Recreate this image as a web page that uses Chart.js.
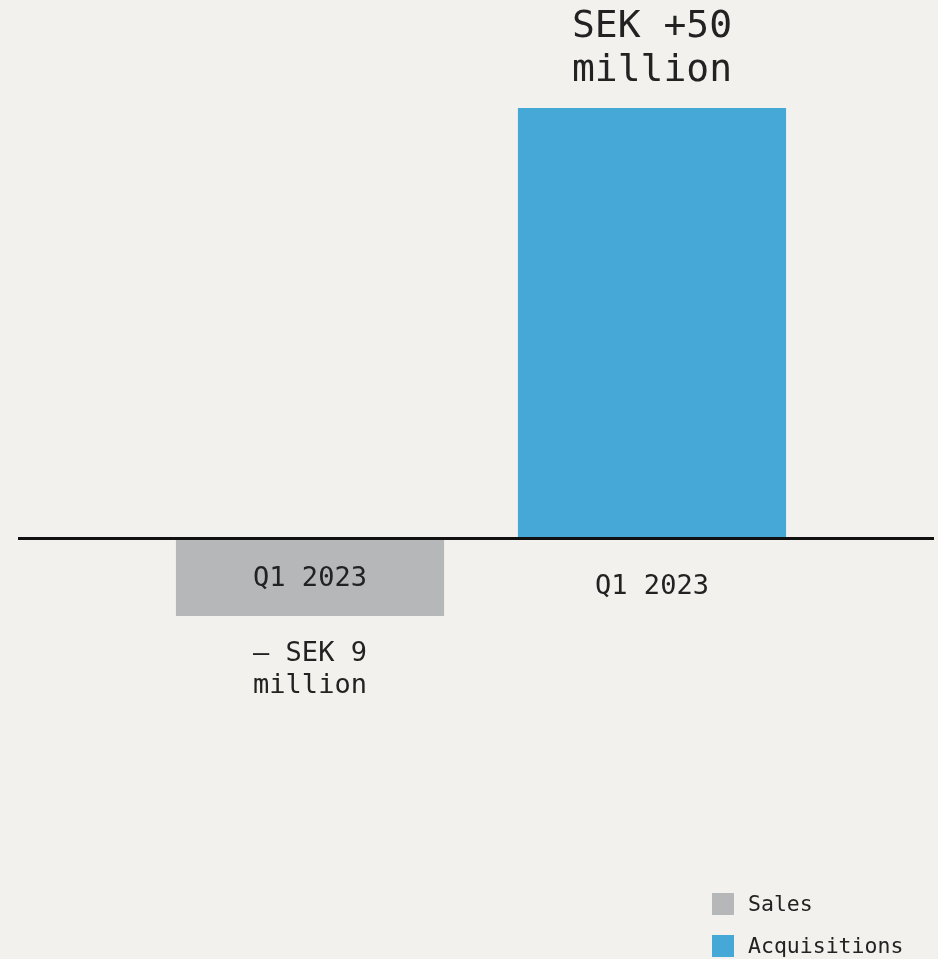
<!DOCTYPE html>
<html lang="en">
<head>
<meta charset="UTF-8">
<title>Sales and acquisitions</title>
<script src="https://cdn.jsdelivr.net/npm/chart.js@4.4.0/dist/chart.umd.min.js"></script>
<style>
  html, body { margin: 0; padding: 0; background: #f2f1ed; }
  #wrap { position: relative; width: 938px; height: 959px; }
  #legend { position: absolute; left: 712px; top: 893px; font-family: "DejaVu Sans Mono", monospace; font-size: 21.5px; color: #222; }
  #legend div { height: 22px; line-height: 22px; margin-bottom: 20px; white-space: nowrap; }
  #legend span { display: inline-block; width: 22px; height: 22px; vertical-align: top; margin-right: 14px; }
</style>
</head>
<body>
<div id="wrap">
  <canvas id="myChart" width="938" height="959"></canvas>
  <div id="legend"></div>
</div>
<script>
// data
const categories = ['Sales', 'Acquisitions'];
const salesValues = [-9, null];
const acquisitionValues = [null, 50];
const periodLabels = ['Q1 2023', 'Q1 2023'];
const valueLabels = [['– SEK 9', 'million'], ['SEK +50', 'million']];
const seriesNames = ['Sales', 'Acquisitions'];
const seriesColors = ['#b6b7b9', '#46a8d6'];

const FONT = '"DejaVu Sans Mono", monospace';

// zero line across the whole width + the text labels
const annotate = {
  id: 'annotate',
  afterDatasetsDraw(chart) {
    const ctx = chart.ctx;
    const y = chart.scales.y;
    const x = chart.scales.x;
    const zero = y.getPixelForValue(0);
    ctx.save();
    ctx.strokeStyle = '#111';
    ctx.lineWidth = 3;
    ctx.beginPath();
    ctx.moveTo(18, zero);
    ctx.lineTo(934, zero);
    ctx.stroke();

    ctx.fillStyle = '#222';
    ctx.textAlign = 'center';
    ctx.textBaseline = 'alphabetic';

    // sales: period inside bar, value under it
    let cx = x.getPixelForValue(0);
    ctx.font = '27px ' + FONT;
    ctx.fillText(periodLabels[0], cx, zero + 47);
    ctx.fillText(valueLabels[0][0], cx, zero + 122);
    ctx.fillText(valueLabels[0][1], cx, zero + 154);

    // acquisitions: value above bar, period under the line
    cx = x.getPixelForValue(1);
    const top = y.getPixelForValue(acquisitionValues[1]);
    ctx.font = '38px ' + FONT;
    ctx.fillText(valueLabels[1][0], cx, top - 71);
    ctx.fillText(valueLabels[1][1], cx, top - 27);
    ctx.font = '27px ' + FONT;
    ctx.fillText(periodLabels[1], cx, zero + 55);
    ctx.restore();
  }
};

const chart = new Chart(document.getElementById('myChart'), {
  type: 'bar',
  data: {
    labels: categories,
    datasets: [
      { label: seriesNames[0], data: salesValues, backgroundColor: seriesColors[0] },
      { label: seriesNames[1], data: acquisitionValues, backgroundColor: seriesColors[1] }
    ]
  },
  options: {
    responsive: false,
    animation: false,
    layout: { padding: { left: 139, right: 115, top: 22, bottom: 76 } },
    datasets: { bar: { barPercentage: 1, categoryPercentage: 0.784 } },
    scales: {
      x: { display: false, stacked: true },
      y: { display: false, min: -40, max: 60 }
    },
    plugins: { legend: { display: false }, tooltip: { enabled: false } }
  },
  plugins: [annotate]
});

// legend as html
const legend = document.getElementById('legend');
chart.data.datasets.forEach(ds => {
  const row = document.createElement('div');
  const sw = document.createElement('span');
  sw.style.background = ds.backgroundColor;
  row.appendChild(sw);
  row.appendChild(document.createTextNode(ds.label));
  legend.appendChild(row);
});
</script>
</body>
</html>
